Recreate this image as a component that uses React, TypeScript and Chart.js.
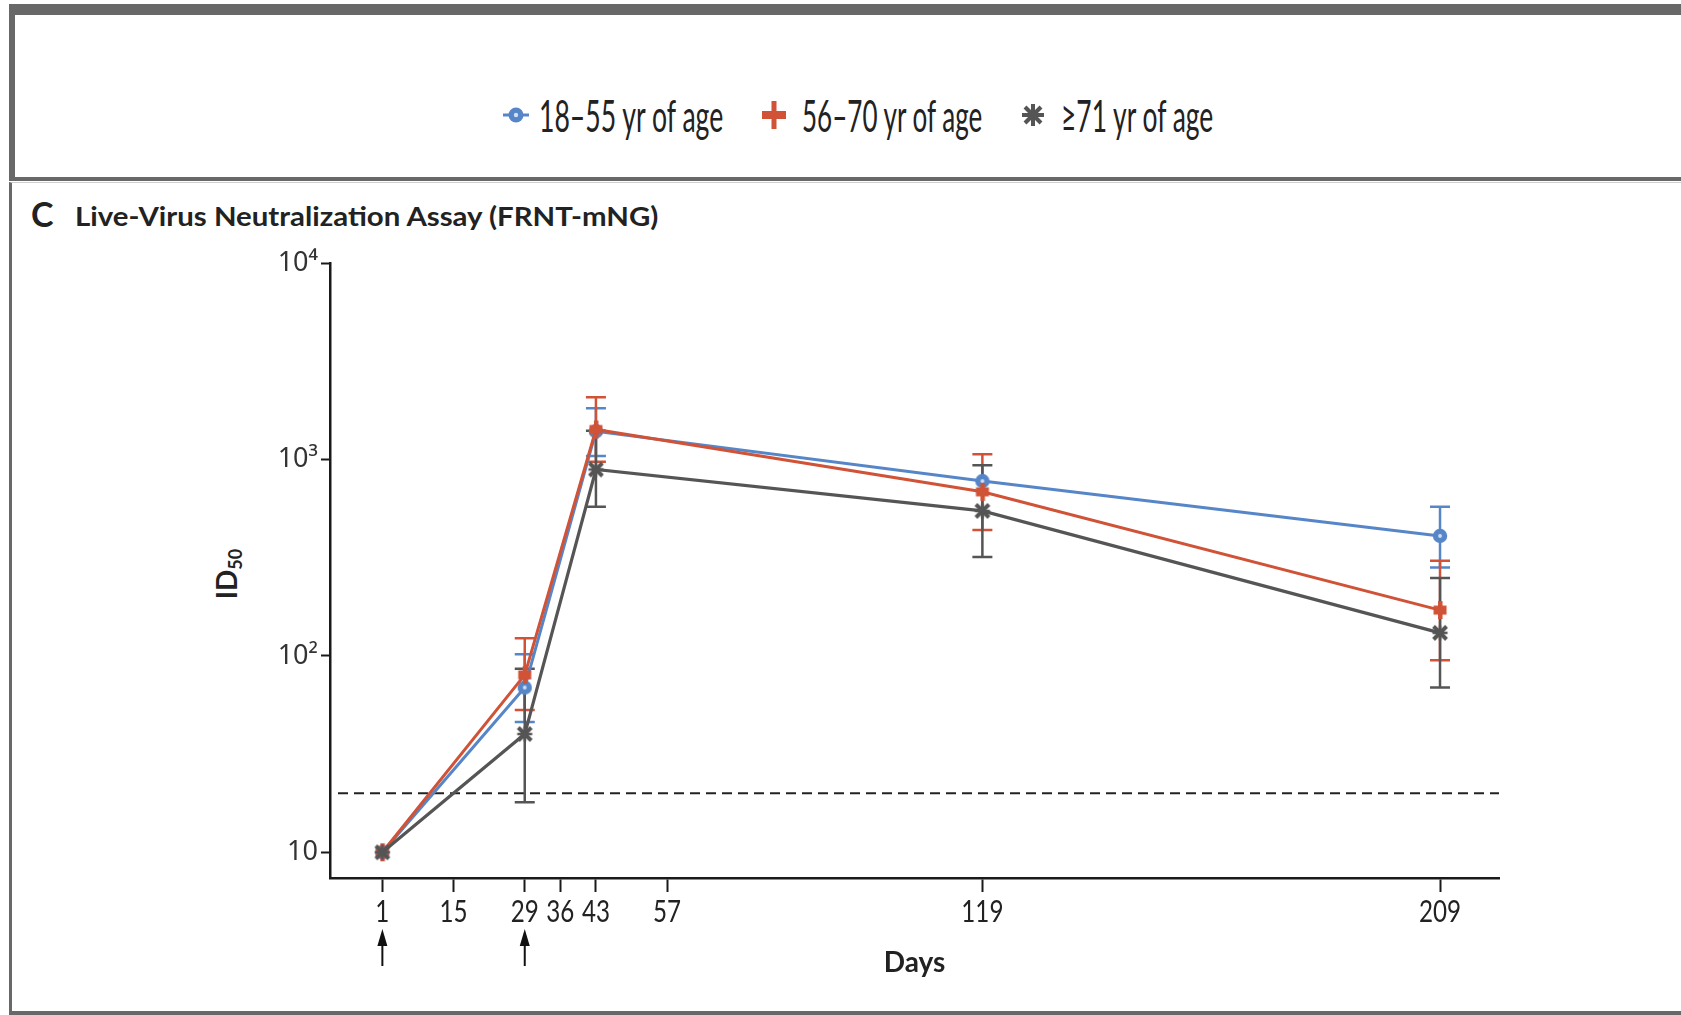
import React, { useEffect, useRef } from "react";
import { Chart, registerables } from "chart.js";

Chart.register(...registerables);

// ---------- data ----------
const days = [1, 29, 43, 119, 209];
const xTickDays = [1, 15, 29, 36, 43, 57, 119, 209];
const doseDays = [1, 29];
const yTickValues = [10, 100, 1000, 10000];
const yTickLabels = ["10", "10²", "10³", "10⁴"];
const seriesLabels = ["18–55 yr of age", "56–70 yr of age", "≥71 yr of age"];

const youngValues = [10, 69, 1390, 776, 408];
const youngLow = [null, 46, 1040, null, 282];
const youngHigh = [null, 102, 1820, null, 574];

const midValues = [10, 80, 1420, 684, 171];
const midLow = [null, 53, 973, 437, 95];
const midHigh = [null, 123, 2070, 1064, 305];

const oldValues = [10, 40, 889, 547, 131];
const oldLow = [null, 18, 574, 319, 69];
const oldHigh = [null, 86, 1400, 935, 249];

const lloq = 20;

// ---------- styles ----------
const BLUE = "#5686C8";
const RED = "#D05237";
const GRAY = "#555555";
const AXIS = "#1a1a1a";
const FRAME = "#686868";

const W = 1681;
const H = 1015;

function makeMarker(kind: string): HTMLCanvasElement {
  const c = document.createElement("canvas");
  c.width = 20;
  c.height = 20;
  const g = c.getContext("2d")!;
  if (kind === "blue") {
    g.fillStyle = BLUE;
    g.beginPath();
    g.arc(10, 10, 7.2, 0, Math.PI * 2);
    g.fill();
    g.fillStyle = "#cfe0f4";
    g.beginPath();
    g.arc(10, 10, 1.9, 0, Math.PI * 2);
    g.fill();
  } else if (kind === "red") {
    g.fillStyle = RED;
    g.fillRect(8, 1, 4.5, 18);
    g.fillRect(3.5, 5.5, 13, 9);
  } else {
    g.strokeStyle = GRAY;
    g.lineCap = "butt";
    g.lineWidth = 4;
    g.beginPath();
    g.moveTo(3.5, 3.5);
    g.lineTo(16.5, 16.5);
    g.moveTo(3.5, 16.5);
    g.lineTo(16.5, 3.5);
    g.stroke();
    g.lineWidth = 2.5;
    g.beginPath();
    g.moveTo(10, 2.5);
    g.lineTo(10, 17.5);
    g.moveTo(2.5, 10);
    g.lineTo(17.5, 10);
    g.stroke();
  }
  return c;
}

let measureCtx: CanvasRenderingContext2D | null = null;
function measure(text: string, font: string): number {
  if (!measureCtx) measureCtx = document.createElement("canvas").getContext("2d");
  measureCtx!.font = font;
  return measureCtx!.measureText(text).width;
}

function FitText(props: {
  text: string;
  font: string;
  left: number;
  centerY: number;
  width: number;
  color?: string;
}) {
  const w = measure(props.text, props.font);
  const sx = w > 0 ? props.width / w : 1;
  return (
    <div
      style={{
        position: "absolute",
        left: props.left,
        top: props.centerY,
        font: props.font,
        lineHeight: 1,
        color: props.color || "#222",
        whiteSpace: "nowrap",
        transform: `translateY(-50%) scaleX(${sx})`,
        transformOrigin: "0 50%",
      }}
    >
      {props.text}
    </div>
  );
}

const errorSets = [
  { low: youngLow, high: youngHigh, color: BLUE },
  { low: midLow, high: midHigh, color: RED },
  { low: oldLow, high: oldHigh, color: GRAY },
];

const overlayPlugin = {
  id: "overlay",
  beforeDatasetsDraw(chart: any) {
    const { ctx, chartArea } = chart;
    const x = chart.scales.x;
    const y = chart.scales.y;
    ctx.save();
    // LLOQ dashed line
    const yl = y.getPixelForValue(lloq);
    ctx.setLineDash([10, 6]);
    ctx.lineWidth = 2;
    ctx.strokeStyle = "#222";
    ctx.beginPath();
    ctx.moveTo(chartArea.left + 8, yl);
    ctx.lineTo(chartArea.right, yl);
    ctx.stroke();
    ctx.setLineDash([]);
    // error bars
    errorSets.forEach((s) => {
      days.forEach((d, i) => {
        const lo = s.low[i];
        const hi = s.high[i];
        if (lo == null || hi == null) return;
        const px = x.getPixelForValue(d);
        const y1 = y.getPixelForValue(lo);
        const y2 = y.getPixelForValue(hi);
        ctx.strokeStyle = s.color;
        ctx.lineWidth = 2.5;
        ctx.beginPath();
        ctx.moveTo(px, y1);
        ctx.lineTo(px, y2);
        ctx.moveTo(px - 10, y1);
        ctx.lineTo(px + 10, y1);
        ctx.moveTo(px - 10, y2);
        ctx.lineTo(px + 10, y2);
        ctx.stroke();
      });
    });
    ctx.restore();
  },
  afterDraw(chart: any) {
    const { ctx, chartArea } = chart;
    const x = chart.scales.x;
    ctx.save();
    // condensed x tick labels
    ctx.fillStyle = "#222";
    ctx.font = "31px Lato";
    ctx.textAlign = "center";
    ctx.textBaseline = "alphabetic";
    xTickDays.forEach((d) => {
      const px = x.getPixelForValue(d);
      ctx.save();
      ctx.translate(px, 922);
      ctx.scale(0.78, 1);
      ctx.fillText(String(d), 0, 0);
      ctx.restore();
    });
    // dose arrows
    ctx.strokeStyle = "#111";
    ctx.fillStyle = "#111";
    ctx.lineWidth = 2;
    doseDays.forEach((d) => {
      const px = x.getPixelForValue(d);
      ctx.beginPath();
      ctx.moveTo(px, 966);
      ctx.lineTo(px, 940);
      ctx.stroke();
      ctx.beginPath();
      ctx.moveTo(px, 929);
      ctx.lineTo(px - 5, 946);
      ctx.lineTo(px + 5, 946);
      ctx.closePath();
      ctx.fill();
    });
    // axis title
    ctx.font = "bold 28px Lato";
    ctx.fillStyle = "#222";
    ctx.textAlign = "center";
    ctx.fillText("Days", (chartArea.left + chartArea.right) / 2, 972);
    ctx.restore();
  },
};

function LegendMarker({ kind, cx, cy }: { kind: string; cx: number; cy: number }) {
  const s = 34;
  const c = s / 2;
  let content: any = null;
  if (kind === "blue") {
    content = (
      <g>
        <line x1={c - 13} y1={c} x2={c + 13} y2={c} stroke={BLUE} strokeWidth={3} />
        <circle cx={c} cy={c} r={7.5} fill={BLUE} />
        <circle cx={c} cy={c} r={2.2} fill="#cfe0f4" />
      </g>
    );
  } else if (kind === "red") {
    content = (
      <g fill={RED}>
        <rect x={c - 2.5} y={c - 14} width={5} height={28} />
        <rect x={c - 12} y={c - 4} width={24} height={8} />
      </g>
    );
  } else {
    content = (
      <g stroke={GRAY} strokeWidth={4}>
        <line x1={c - 8} y1={c - 8} x2={c + 8} y2={c + 8} />
        <line x1={c - 8} y1={c + 8} x2={c + 8} y2={c - 8} />
        <line x1={c} y1={c - 11} x2={c} y2={c + 11} />
        <line x1={c - 11} y1={c} x2={c + 11} y2={c} />
      </g>
    );
  }
  return (
    <svg
      width={s}
      height={s}
      style={{ position: "absolute", left: cx - c, top: cy - c }}
    >
      {content}
    </svg>
  );
}

export default function App() {
  const canvasRef = useRef<HTMLCanvasElement | null>(null);

  useEffect(() => {
    const canvas = canvasRef.current;
    if (!canvas) return;
    const toPoints = (vals: number[]) => days.map((d, i) => ({ x: d, y: vals[i] }));
    const chart = new Chart(canvas, {
      type: "line",
      data: {
        datasets: [
          {
            label: seriesLabels[0],
            data: toPoints(youngValues),
            borderColor: BLUE,
            backgroundColor: BLUE,
            borderWidth: 3,
            pointStyle: makeMarker("blue") as any,
            order: 3,
            tension: 0,
          },
          {
            label: seriesLabels[1],
            data: toPoints(midValues),
            borderColor: RED,
            backgroundColor: RED,
            borderWidth: 3,
            pointStyle: makeMarker("red") as any,
            order: 2,
            tension: 0,
          },
          {
            label: seriesLabels[2],
            data: toPoints(oldValues),
            borderColor: GRAY,
            backgroundColor: GRAY,
            borderWidth: 3.2,
            pointStyle: makeMarker("gray") as any,
            order: 1,
            tension: 0,
          },
        ],
      },
      options: {
        animation: false,
        responsive: false,
        devicePixelRatio: 1,
        layout: { padding: { top: 263, right: 182, left: 0, bottom: 0 } },
        plugins: {
          legend: { display: false },
          tooltip: { enabled: false },
        },
        scales: {
          x: {
            type: "linear",
            min: -9.3,
            max: 220.6,
            afterBuildTicks: (s: any) => {
              s.ticks = xTickDays.map((v) => ({ value: v }));
            },
            afterFit: (s: any) => {
              s.height = H - 878;
            },
            ticks: { display: false },
            grid: {
              drawOnChartArea: false,
              drawTicks: true,
              tickLength: 14,
              tickWidth: 2,
              color: AXIS,
            },
            border: { color: AXIS, width: 2.5 },
          },
          y: {
            type: "logarithmic",
            min: 7.4,
            max: 10000,
            afterBuildTicks: (s: any) => {
              s.ticks = yTickValues.map((v) => ({ value: v }));
            },
            afterFit: (s: any) => {
              s.width = 330;
            },
            ticks: {
              autoSkip: false,
              padding: 3,
              color: "#333",
              font: { family: "'Noto Sans', 'DejaVu Sans', sans-serif", size: 27 },
              callback: (v: any) => {
                const idx = yTickValues.indexOf(Number(v));
                return idx >= 0 ? yTickLabels[idx] : "";
              },
            },
            grid: {
              drawOnChartArea: false,
              drawTicks: true,
              tickLength: 9,
              tickWidth: 2,
              color: AXIS,
            },
            border: { color: AXIS, width: 2.5 },
          },
        },
      },
      plugins: [overlayPlugin],
    } as any);
    return () => chart.destroy();
  }, []);

  return (
    <div
      style={{
        position: "absolute",
        left: 0,
        top: 0,
        width: W,
        height: H,
        overflow: "hidden",
        background: "#fff",
      }}
    >
      {/* legend frame */}
      <div
        style={{
          position: "absolute",
          left: 9,
          top: 4,
          width: 1700,
          height: 177,
          boxSizing: "border-box",
          borderTop: `11px solid ${FRAME}`,
          borderLeft: `6px solid ${FRAME}`,
          borderBottom: `4px solid ${FRAME}`,
        }}
      />
      {/* chart frame */}
      <div
        style={{
          position: "absolute",
          left: 9,
          top: 182,
          width: 1700,
          height: 833,
          boxSizing: "border-box",
          borderTop: "1px solid #cfcfcf",
          borderLeft: `3px solid ${FRAME}`,
          borderBottom: `4px solid ${FRAME}`,
        }}
      />
      {/* legend */}
      <LegendMarker kind="blue" cx={516} cy={115} />
      <FitText text={seriesLabels[0]} font="45px Lato" left={539} centerY={115} width={186} />
      <LegendMarker kind="red" cx={774} cy={115} />
      <FitText text={seriesLabels[1]} font="45px Lato" left={802} centerY={115} width={182} />
      <LegendMarker kind="gray" cx={1033} cy={115} />
      <FitText text={seriesLabels[2]} font="45px Lato" left={1061} centerY={115} width={154} />
      {/* panel title */}
      <div
        style={{
          position: "absolute",
          left: 31,
          top: 214,
          font: "bold 34px Lato",
          lineHeight: 1,
          color: "#222",
          transform: "translateY(-50%)",
        }}
      >
        C
      </div>
      <FitText
        text="Live-Virus Neutralization Assay (FRNT-mNG)"
        font="bold 27px Lato"
        left={75}
        centerY={215}
        width={585}
      />
      {/* y axis title */}
      <div
        style={{
          position: "absolute",
          left: 228,
          top: 574,
          font: "bold 28px Lato",
          lineHeight: 1,
          color: "#222",
          whiteSpace: "nowrap",
          transform: "translate(-50%, -50%) rotate(-90deg)",
        }}
      >
        ID<sub style={{ fontSize: 18, verticalAlign: "-5px" }}>50</sub>
      </div>
      <canvas
        ref={canvasRef}
        width={W}
        height={H}
        style={{ position: "absolute", left: 0, top: 0, width: W, height: H }}
      />
    </div>
  );
}
